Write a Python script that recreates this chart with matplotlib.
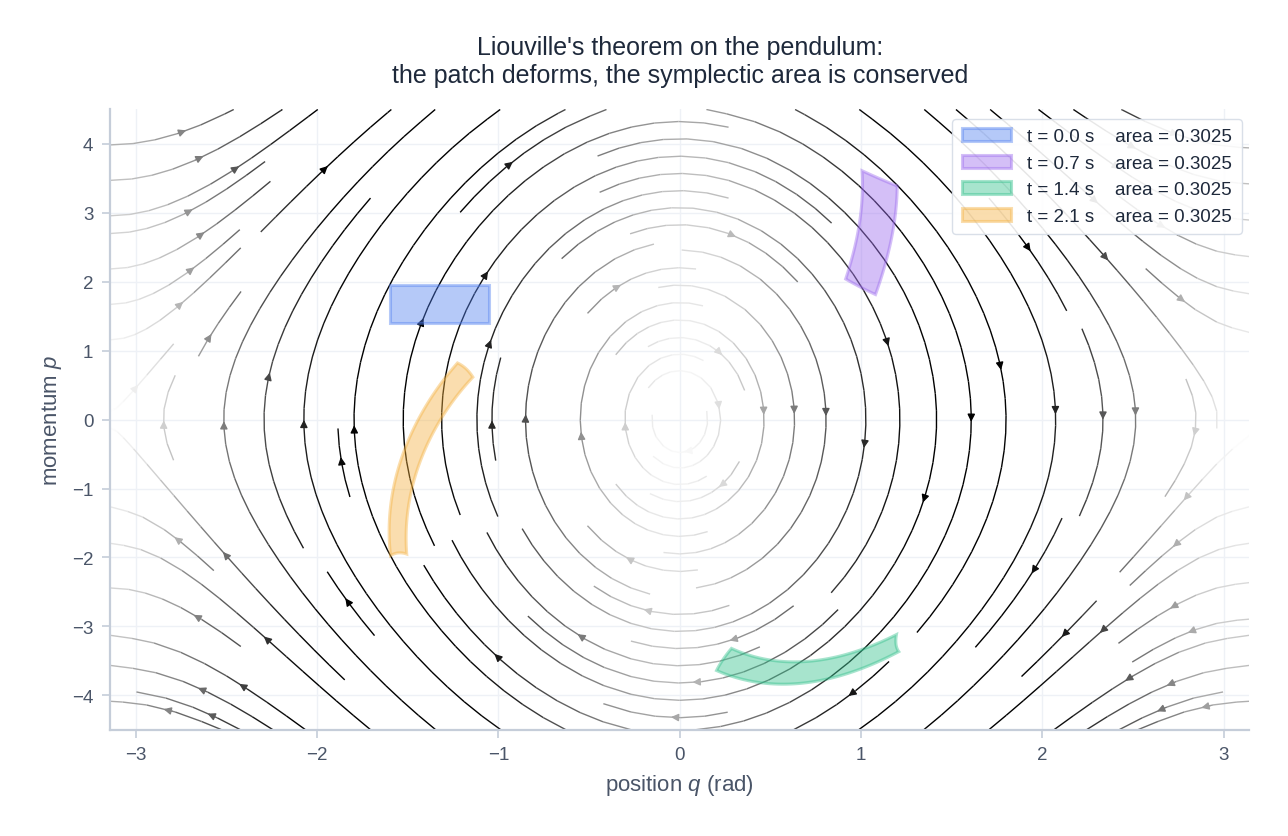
import numpy as np
import matplotlib.pyplot as plt
from matplotlib.patches import Polygon, Patch

plt.rcParams['font.family'] = ['Liberation Sans', 'DejaVu Sans']
plt.rcParams['mathtext.fontset'] = 'custom'
plt.rcParams['mathtext.it'] = 'Liberation Sans:italic'
plt.rcParams['mathtext.rm'] = 'Liberation Sans'

# pendulum model and patch setup
g_over_l = 9.81
patch_q = [-1.6, -1.05]
patch_p = [1.4, 1.95]
times = [0.0, 0.7, 1.4, 2.1]
patch_colors = ['#4f7ff0', '#9a68ee', '#2fbf8a', '#f4b03e']

q_lim = [-np.pi, np.pi]
p_lim = [-4.5, 4.5]

text_col = '#4a5568'
title_col = '#1e293b'
spine_col = '#c5cdd9'


def field(q, p):
    return p, -g_over_l * np.sin(q)


def flow(q, p, t, n_steps=700):
    q = np.array(q, dtype=float)
    p = np.array(p, dtype=float)
    if t == 0:
        return q, p
    h = t / n_steps
    for _ in range(n_steps):
        k1q, k1p = field(q, p)
        k2q, k2p = field(q + 0.5 * h * k1q, p + 0.5 * h * k1p)
        k3q, k3p = field(q + 0.5 * h * k2q, p + 0.5 * h * k2p)
        k4q, k4p = field(q + h * k3q, p + h * k3p)
        q = q + h / 6 * (k1q + 2 * k2q + 2 * k3q + k4q)
        p = p + h / 6 * (k1p + 2 * k2p + 2 * k3p + k4p)
    return q, p


def shoelace(x, y):
    return 0.5 * abs(np.dot(x, np.roll(y, 1)) - np.dot(y, np.roll(x, 1)))


# boundary of the initial square
n = 150
s = np.linspace(0, 1, n, endpoint=False)
q0, q1 = patch_q
p0, p1 = patch_p
bq = np.concatenate([q0 + (q1 - q0) * s, np.full(n, q1), q1 - (q1 - q0) * s, np.full(n, q0)])
bp = np.concatenate([np.full(n, p0), p0 + (p1 - p0) * s, np.full(n, p1), p1 - (p1 - p0) * s])

fig, ax = plt.subplots(figsize=(12.88, 8.37), dpi=100)
fig.subplots_adjust(left=0.0855, right=0.970, top=0.868, bottom=0.127)

Q, P = np.meshgrid(np.linspace(q_lim[0], q_lim[1], 240), np.linspace(p_lim[0], p_lim[1], 240))
U, V = field(Q, P)
speed = np.hypot(U, V)
ax.streamplot(Q, P, U, V, color=speed, cmap='Greys', norm=plt.Normalize(0, speed.max() * 0.9),
              density=1.2, linewidth=1.0, arrowsize=1.1, zorder=2)

handles = []
for t, c in zip(times, patch_colors):
    qq, pp = flow(bq, bp, t)
    area = shoelace(qq, pp)
    poly = Polygon(np.column_stack([qq, pp]), closed=True, facecolor=c, edgecolor=c,
                   alpha=0.42, lw=2.2, zorder=3)
    ax.add_patch(poly)
    handles.append(Patch(facecolor=c, edgecolor=c, alpha=0.42, lw=2.2,
                         label=f't = {t:.1f} s    area = {area:.4f}'))

ax.set_xlim(q_lim)
ax.set_ylim(p_lim)
ax.set_xticks([-3, -2, -1, 0, 1, 2, 3])
ax.set_yticks([-4, -3, -2, -1, 0, 1, 2, 3, 4])
ax.grid(True, color='#eef1f6', lw=1.0, zorder=0)
ax.set_axisbelow(True)
for side in ['top', 'right']:
    ax.spines[side].set_visible(False)
for side in ['left', 'bottom']:
    ax.spines[side].set_color(spine_col)
    ax.spines[side].set_linewidth(1.6)
ax.tick_params(colors=spine_col, labelcolor=text_col, labelsize=13.5, length=6, width=1.2, pad=6)

ax.set_xlabel('position $q$ (rad)', fontsize=16, color=text_col, labelpad=6)
ax.set_ylabel('momentum $p$', fontsize=16, color=text_col, labelpad=6)
ax.set_title("Liouville's theorem on the pendulum:\nthe patch deforms, the symplectic area is conserved",
             fontsize=18, color=title_col, pad=20, linespacing=1.2)

leg = ax.legend(handles=handles, loc='upper right', fontsize=13.5, frameon=True,
                framealpha=0.9, edgecolor='#d5dce6', handlelength=2.6, borderpad=0.5,
                labelspacing=0.5, handletextpad=0.9, bbox_to_anchor=(1.0015, 1.0))
for txt in leg.get_texts():
    txt.set_color(title_col)

fig.savefig('out.png', dpi=100)
